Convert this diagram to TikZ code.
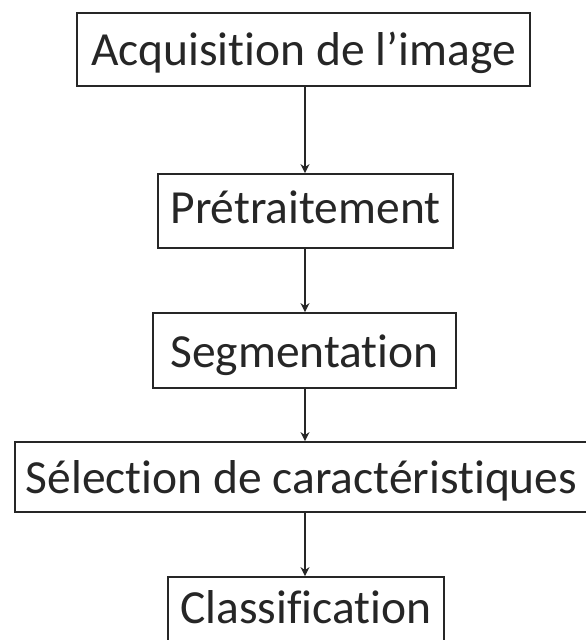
\documentclass[tikz,border=0pt]{standalone}
\usepackage{fontspec}
\setmainfont{Carlito}[Ligatures={NoCommon}]
\usetikzlibrary{arrows.meta}
\definecolor{ink}{HTML}{262626}
\tikzset{
  stepbox/.style={draw=ink, line width=1.8pt, inner sep=0pt, text=ink,
    font=\fontsize{47.5}{57}\selectfont, align=center},
  arr/.style={draw=ink, line width=1.3pt, -{Stealth[length=9pt,width=9pt]}}
}
\begin{document}
\begin{tikzpicture}[x=1pt,y=-1pt]
\useasboundingbox (0,0) rectangle (586,640);
\fill[white] (0,0) rectangle (586,640);
\node[stepbox, minimum width=453pt, minimum height=73pt, text height=35pt, text depth=4pt] (b1) at (303.5,49.5) {Acquisition de l’image};
\node[stepbox, minimum width=295pt, minimum height=74pt, text height=30pt, text depth=6pt] (b2) at (305.5,211) {Prétraitement};
\node[stepbox, minimum width=303pt, minimum height=75pt, text height=36pt, text depth=3pt] (b3) at (304.5,350.5) {Segmentation};
\node[stepbox, minimum width=573pt, minimum height=70pt, text height=35pt, text depth=3pt] (b4) at (301.5,477) {Sélection de caractéristiques};
\node[stepbox, minimum width=276pt, minimum height=73pt, text height=27pt, text depth=8pt] (b5) at (306,613.5) {Classification};
\coordinate (ax) at (305,0);
\draw[arr] (b1.south -| ax) -- (b2.north -| ax);
\draw[arr] (b2.south -| ax) -- (b3.north -| ax);
\draw[arr] (b3.south -| ax) -- (b4.north -| ax);
\draw[arr] (b4.south -| ax) -- (b5.north -| ax);
\end{tikzpicture}
\end{document}
